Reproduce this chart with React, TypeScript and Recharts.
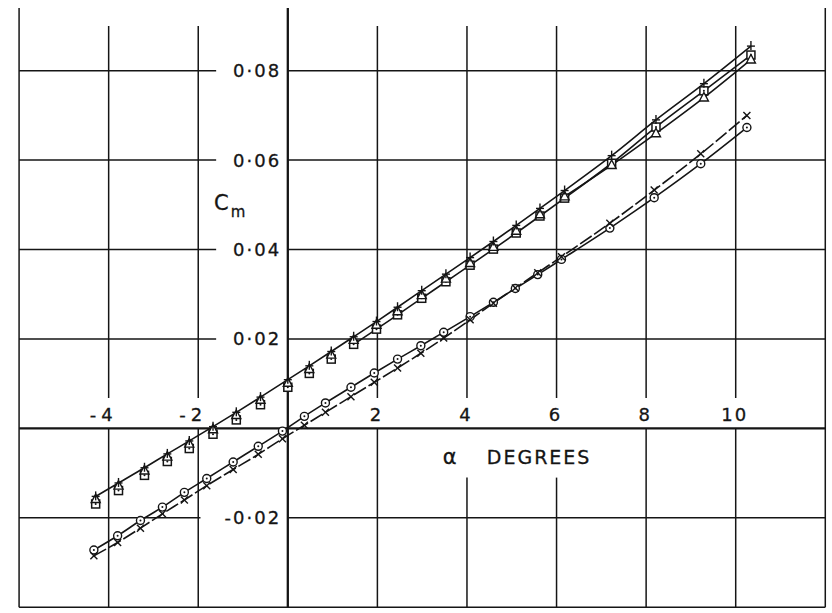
import React from "react";
import {
  ComposedChart,
  Line,
  XAxis,
  YAxis,
  ReferenceLine,
  ReferenceDot
} from "recharts";

// upper group: +, triangle, square (lightly faired)
const alphaUpper = [-4.29, -3.78, -3.2, -2.69, -2.2, -1.67, -1.15, -0.61, 0, 0.48, 0.97, 1.47, 1.98, 2.45, 2.99, 3.53, 4.07, 4.59, 5.1, 5.63, 6.18, 7.23, 8.22, 9.29, 10.34];
const cmPlus = [-0.0152, -0.0122, -0.0088, -0.0057, -0.0028, 0.0004, 0.0036, 0.007, 0.0109, 0.014, 0.0172, 0.0205, 0.0239, 0.0271, 0.0308, 0.0345, 0.0382, 0.0418, 0.0454, 0.0492, 0.0532, 0.061, 0.069, 0.0771, 0.0855];
const cmTriangle = [-0.0158, -0.0128, -0.0094, -0.0063, -0.0034, -0.0002, 0.003, 0.0064, 0.0102, 0.0133, 0.0165, 0.0198, 0.0232, 0.0262, 0.0298, 0.0335, 0.037, 0.0406, 0.0442, 0.0479, 0.0519, 0.0589, 0.066, 0.074, 0.0825];
const cmSquare = [-0.0169, -0.0139, -0.0105, -0.0074, -0.0045, -0.0013, 0.0019, 0.0053, 0.0092, 0.0123, 0.0155, 0.0188, 0.0222, 0.0254, 0.0291, 0.0328, 0.0365, 0.0401, 0.0437, 0.0475, 0.0515, 0.0593, 0.0674, 0.0755, 0.0835];

// lower group: circle and cross
const alphaLower = [-4.33, -3.8, -3.29, -2.8, -2.31, -1.81, -1.22, -0.66, -0.12, 0.37, 0.84, 1.41, 1.93, 2.45, 2.97, 3.48, 4.07, 4.59, 5.08, 5.58, 6.11, 7.19, 8.18, 9.22, 10.25];
const cmCircle = [-0.0272, -0.024, -0.0206, -0.0176, -0.0143, -0.0112, -0.0075, -0.004, -0.0006, 0.0027, 0.0057, 0.0092, 0.0124, 0.0155, 0.0185, 0.0215, 0.025, 0.0282, 0.0313, 0.0344, 0.0378, 0.0448, 0.0516, 0.0592, 0.0673];
const cmCross = [-0.0285, -0.0255, -0.0223, -0.0191, -0.016, -0.0128, -0.0092, -0.0058, -0.0023, 0.0007, 0.0036, 0.0071, 0.0103, 0.0135, 0.0168, 0.0202, 0.0243, 0.028, 0.0314, 0.0348, 0.0384, 0.0459, 0.0533, 0.0614, 0.07];

const xTicks = [-4, -2, 2, 4, 6, 8, 10];
const yTicks = [0.08, 0.06, 0.04, 0.02, -0.02];
const yTickLabels = ["0·08", "0·06", "0·04", "0·02", "-0·02"];
const gridX = [-6, -4, -2, 0, 2, 4, 6, 8, 10, 12];
const gridY = [0.08, 0.06, 0.04, 0.02, 0, -0.02, -0.04];

const X_DOMAIN = [-6.426, 12.15];
const Y_DOMAIN = [-0.04128, 0.09581];
const INK = "#151515";
const FONT = "'DejaVu Sans', sans-serif";

const squareCurveFrom = 1.4;
const triangleCurveFrom = 6.0;

const upperRows = alphaUpper.map((a, i) => ({
  x: a,
  plus: cmPlus[i],
  tri: cmTriangle[i],
  sq: cmSquare[i],
  sqCurve: a >= squareCurveFrom ? cmSquare[i] : null,
  triCurve: a >= triangleCurveFrom ? cmTriangle[i] : null
}));

const lowerRows = alphaLower.map((a, i) => ({
  x: a,
  circ: cmCircle[i],
  cross: cmCross[i]
}));

// grid segments, broken where the lettering sits
function vSegments(x: number): [number, number][] {
  if (x === -6 || x === 12 || x === 0) return [[-0.04, 0.094]];
  if (x === 4 || x === 6) return [[-0.04, -0.011], [0.0068, 0.09]];
  return [[-0.04, 0], [0.0068, 0.09]];
}

function hSegments(y: number): [number, number][] {
  if (y === 0 || y === -0.04) return [[-6, 12]];
  if (y === -0.02) return [[-6, -1.95], [0, 12]];
  return [[-6, -1.6], [0, 12]];
}

const PlusMark = ({ cx, cy }: any) => (
  <g stroke={INK} strokeWidth={1.4}>
    <line x1={cx - 4} x2={cx + 4} y1={cy} y2={cy} />
    <line x1={cx} x2={cx} y1={cy - 5} y2={cy + 4} />
  </g>
);

const TriMark = ({ cx, cy }: any) => (
  <polygon
    points={`${cx},${cy - 5} ${cx - 4.5},${cy + 3.5} ${cx + 4.5},${cy + 3.5}`}
    fill="#fff"
    stroke={INK}
    strokeWidth={1.4}
  />
);

const SquareMark = ({ cx, cy }: any) => (
  <g>
    <rect x={cx - 4} y={cy - 4} width={8} height={8} fill="#fff" stroke={INK} strokeWidth={1.5} />
    <circle cx={cx} cy={cy} r={1} fill={INK} />
  </g>
);

const CircleMark = ({ cx, cy }: any) => (
  <g>
    <circle cx={cx} cy={cy} r={4} fill="#fff" stroke={INK} strokeWidth={1.4} />
    <circle cx={cx} cy={cy} r={1} fill={INK} />
  </g>
);

const CrossMark = ({ cx, cy }: any) => (
  <g stroke={INK} strokeWidth={1.4}>
    <line x1={cx - 3.5} x2={cx + 3.5} y1={cy - 3.5} y2={cy + 3.5} />
    <line x1={cx - 3.5} x2={cx + 3.5} y1={cy + 3.5} y2={cy - 3.5} />
  </g>
);

function marker(Comp: any) {
  return (p: any) => {
    if (p.cx == null || p.cy == null) return <g key={p.index} />;
    return <Comp key={p.index} cx={p.cx} cy={p.cy} />;
  };
}

// hand lettering: a little stroke to thicken it
const textStyle = {
  fontFamily: FONT,
  fill: INK,
  stroke: INK,
  strokeWidth: 0.3,
  letterSpacing: 2
};

export default function App() {

  return (

    <div style={{ position: "absolute", left: 0, top: 0, background: "#fff" }}>

      <ComposedChart
        width={832}
        height={613}
        margin={{ top: 0, right: 0, bottom: 0, left: 0 }}
      >

        <XAxis type="number" dataKey="x" domain={X_DOMAIN} hide allowDataOverflow />
        <YAxis type="number" domain={Y_DOMAIN} hide allowDataOverflow />

        {gridX.map((gx) =>
          vSegments(gx).map(([y1, y2], j) => (
            <ReferenceLine
              key={`v${gx}_${j}`}
              segment={[{ x: gx, y: y1 }, { x: gx, y: y2 }]}
              stroke={INK}
              strokeWidth={gx === 0 ? 2.3 : 1.5}
              ifOverflow="visible"
            />
          ))
        )}

        {gridY.map((gy) =>
          hSegments(gy).map(([x1, x2], j) => (
            <ReferenceLine
              key={`h${gy}_${j}`}
              segment={[{ x: x1, y: gy }, { x: x2, y: gy }]}
              stroke={INK}
              strokeWidth={gy === 0 ? 2.3 : 1.5}
              ifOverflow="visible"
            />
          ))
        )}

        {yTicks.map((v, i) => (
          <ReferenceDot
            key={`yl${v}`}
            x={-0.15}
            y={v}
            r={0}
            ifOverflow="visible"
            shape={(p: any) => (
              <text
                x={p.cx}
                y={p.cy}
                textAnchor="end"
                dominantBaseline="central"
                fontSize={18}
                style={textStyle}
              >
                {yTickLabels[i]}
              </text>
            )}
          />
        ))}

        {xTicks.map((v) => (
          <ReferenceDot
            key={`xl${v}`}
            x={v}
            y={0}
            r={0}
            ifOverflow="visible"
            shape={(p: any) => (
              <text
                x={v < 0 ? p.cx + 9 : p.cx - 1}
                y={p.cy - 7}
                textAnchor={v < 0 ? "end" : "middle"}
                fontSize={18}
                style={{ ...textStyle, letterSpacing: v < 0 ? 5 : 2 }}
              >
                {v < 0 ? `-${Math.abs(v)}` : `${v}`}
              </text>
            )}
          />
        ))}

        <ReferenceDot
          x={-1.47}
          y={0.0507}
          r={0}
          ifOverflow="visible"
          shape={(p: any) => (
            <text x={p.cx - 8} y={p.cy + 8} fontSize={21} style={{ ...textStyle, letterSpacing: 0 }}>
              C
              <tspan fontSize={15} dy={7} dx={2}>m</tspan>
            </text>
          )}
        />

        <ReferenceDot
          x={3.46}
          y={-0.0064}
          r={0}
          ifOverflow="visible"
          shape={(p: any) => (
            <g>
              <text x={p.cx} y={p.cy} dominantBaseline="central" fontSize={21} style={{ ...textStyle, letterSpacing: 0 }}>
                α
              </text>
              <text x={p.cx + 44} y={p.cy} dominantBaseline="central" fontSize={19} style={{ ...textStyle, letterSpacing: 2 }}>
                DEGREES
              </text>
            </g>
          )}
        />

        {/* faired curves */}
        <Line data={upperRows} dataKey="plus" type="monotone" stroke={INK} strokeWidth={1.6} dot={false} activeDot={false} isAnimationActive={false} />
        <Line data={upperRows} dataKey="sqCurve" type="monotone" stroke={INK} strokeWidth={1.6} dot={false} activeDot={false} isAnimationActive={false} />
        <Line data={upperRows} dataKey="triCurve" type="monotone" stroke={INK} strokeWidth={1.6} dot={false} activeDot={false} isAnimationActive={false} />
        <Line data={lowerRows} dataKey="circ" type="monotone" stroke={INK} strokeWidth={1.6} dot={false} activeDot={false} isAnimationActive={false} />
        <Line data={lowerRows} dataKey="cross" type="monotone" stroke={INK} strokeWidth={1.6} strokeDasharray="14 3" dot={false} activeDot={false} isAnimationActive={false} />

        {/* experimental points */}
        <Line data={upperRows} dataKey="sq" stroke="none" dot={marker(SquareMark)} activeDot={false} isAnimationActive={false} />
        <Line data={upperRows} dataKey="tri" stroke="none" dot={marker(TriMark)} activeDot={false} isAnimationActive={false} />
        <Line data={upperRows} dataKey="plus" stroke="none" dot={marker(PlusMark)} activeDot={false} isAnimationActive={false} />
        <Line data={lowerRows} dataKey="circ" stroke="none" dot={marker(CircleMark)} activeDot={false} isAnimationActive={false} />
        <Line data={lowerRows} dataKey="cross" stroke="none" dot={marker(CrossMark)} activeDot={false} isAnimationActive={false} />

      </ComposedChart>

    </div>

  );

}
